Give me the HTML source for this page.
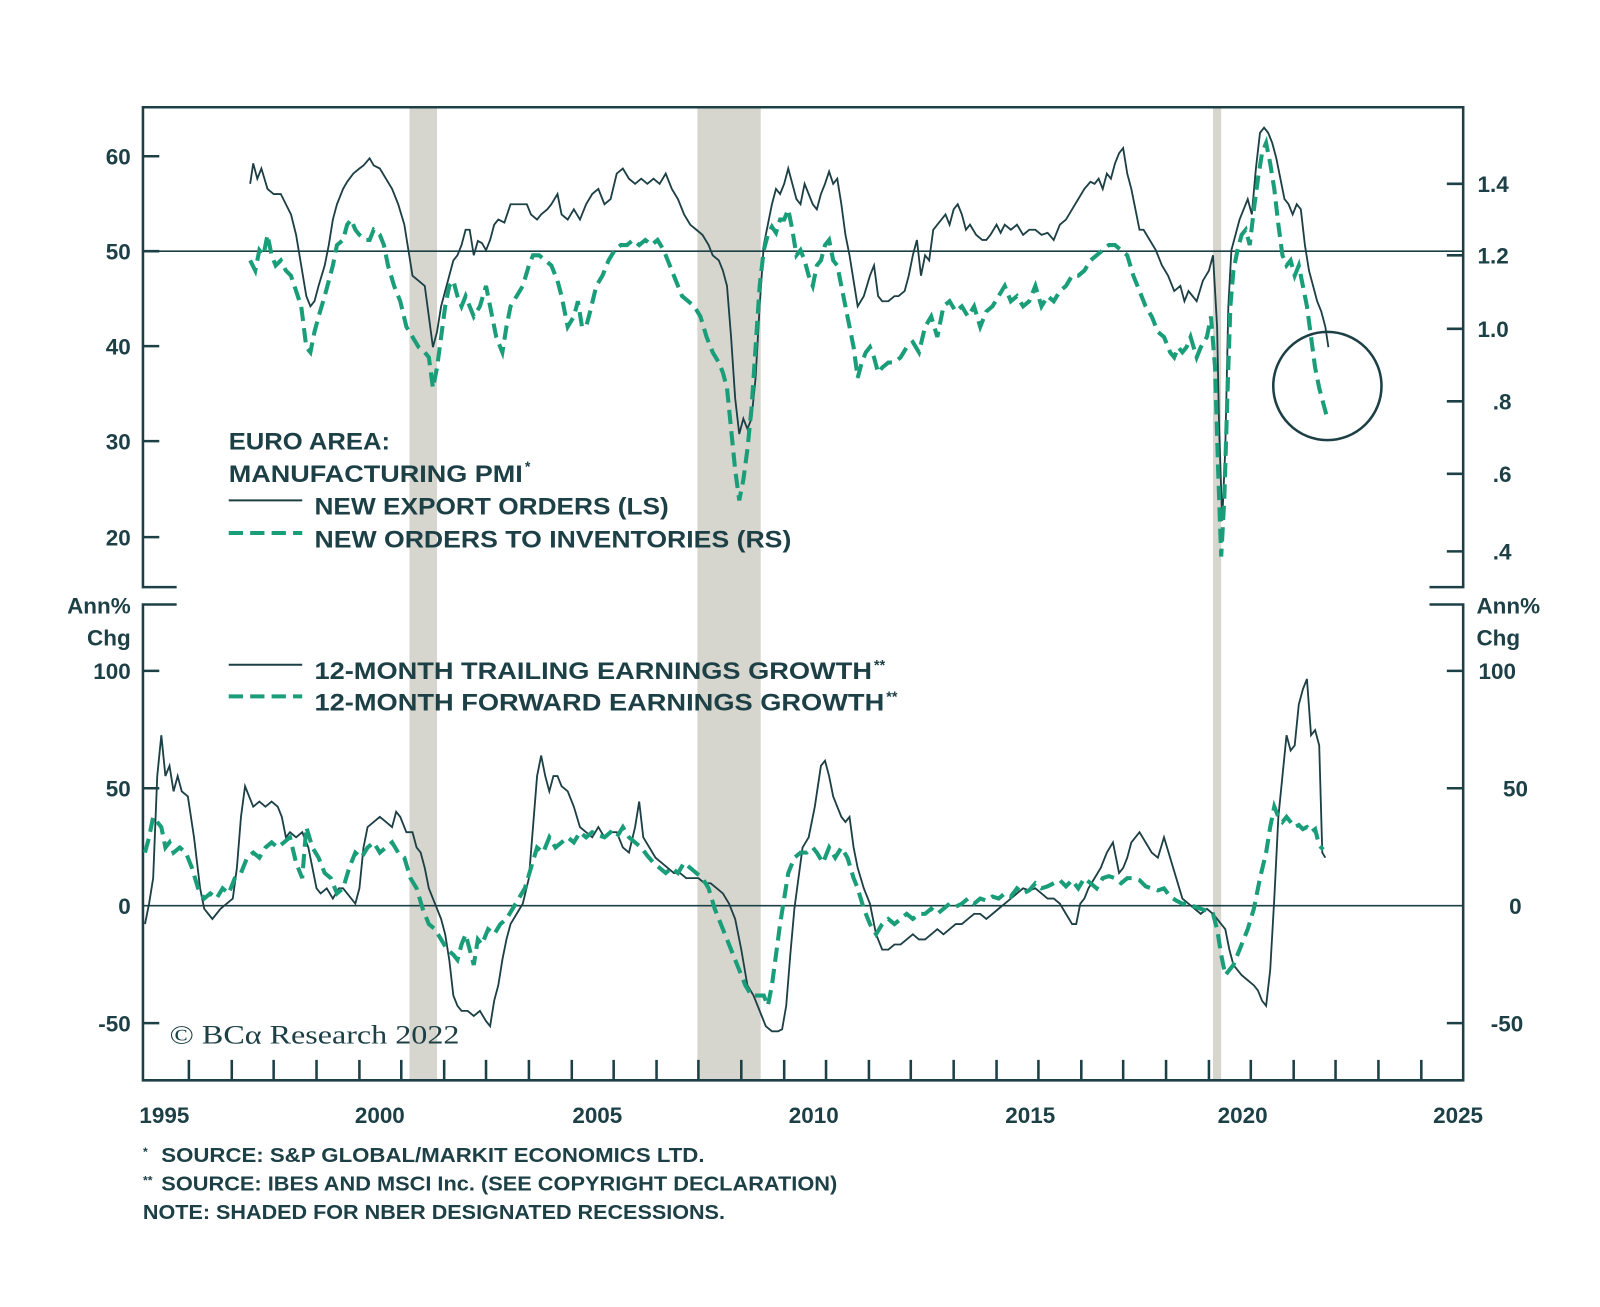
<!DOCTYPE html>
<html><head><meta charset="utf-8"><style>
html,body{margin:0;padding:0;background:#fff;}
svg{display:block;}
text{font-family:"Liberation Sans",sans-serif;font-weight:bold;fill:#1d4046;}
</style></head><body>
<svg width="1600" height="1307" viewBox="0 0 1567 1280" xmlns="http://www.w3.org/2000/svg">
<rect width="1567" height="1280" fill="#fff"/>
<g fill="#d6d6ce">
<rect x="401" y="105" width="27" height="953"/>
<rect x="683" y="105" width="62" height="953"/>
<rect x="1188" y="105" width="8" height="953"/>
</g>
<g stroke="#1d4046" fill="none" stroke-width="2.5">
<path d="M173,575 H140 V105 H1433 V575 H1400"/>
<path d="M140,246 H1433" stroke-width="1.5"/>
<path d="M140,153 h16 M140,246 h16 M140,339 h16 M140,432 h16 M140,526 h16"/>
<path d="M1433,180 h-16 M1433,250 h-16 M1433,322 h-16 M1433,393 h-16 M1433,464 h-16 M1433,540 h-16"/>
<path d="M173,592 H140 V1058 H1433 V592 H1400"/>
<path d="M140,887 H1433" stroke-width="1.5"/>
<path d="M140,657 h16 M140,772 h16 M140,1002 h16"/>
<path d="M1433,657 h-16 M1433,772 h-16 M1433,1002 h-16"/>
<path d="M185,1058 v-20 M227,1058 v-20 M268,1058 v-20 M310,1058 v-20 M352,1058 v-20 M393,1058 v-20 M435,1058 v-20 M476,1058 v-20 M518,1058 v-20 M560,1058 v-20 M601,1058 v-20 M643,1058 v-20 M684,1058 v-20 M726,1058 v-20 M768,1058 v-20 M809,1058 v-20 M851,1058 v-20 M892,1058 v-20 M934,1058 v-20 M976,1058 v-20 M1017,1058 v-20 M1059,1058 v-20 M1100,1058 v-20 M1142,1058 v-20 M1184,1058 v-20 M1225,1058 v-20 M1267,1058 v-20 M1308,1058 v-20 M1350,1058 v-20 M1392,1058 v-20"/>
<circle cx="1300" cy="378" r="53"/>
</g>
<polyline fill="none" stroke="#1d4046" stroke-width="1.8" points="245,180 248,160 252,175 256,165 262,185 268,190 275,190 280,200 285,210 290,230 295,260 300,290 304,300 308,295 312,280 318,260 322,240 326,215 330,200 336,185 340,178 346,170 352,165 356,162 362,155 366,162 372,165 378,175 384,185 390,200 396,220 400,245 404,270 410,275 416,280 420,310 424,340 428,325 432,300 436,285 440,270 444,255 448,250 452,240 456,225 460,225 464,250 468,236 472,238 476,245 480,235 484,220 488,215 494,218 500,200 506,200 512,200 516,200 520,210 526,215 530,210 536,205 540,200 546,190 550,210 556,215 562,205 568,215 574,200 580,190 586,185 592,200 598,195 604,170 610,165 616,175 622,180 628,175 634,180 640,175 646,180 652,170 658,185 664,195 670,210 676,220 682,225 688,230 694,240 698,250 704,255 708,265 712,280 716,330 720,390 724,425 728,410 732,420 736,410 740,370 744,300 748,240 752,220 756,200 760,185 764,190 768,180 772,165 776,180 780,195 784,200 788,180 792,190 796,200 800,205 804,190 808,180 812,168 816,180 820,175 824,200 828,230 832,250 836,275 840,300 846,290 852,270 856,260 860,290 864,295 870,295 876,290 880,290 886,285 890,270 894,250 898,235 902,270 906,250 910,255 914,225 918,220 922,215 926,210 930,220 934,205 938,200 942,210 946,225 950,220 956,230 962,235 966,235 970,230 976,220 980,228 984,220 990,225 996,220 1002,230 1008,225 1014,225 1020,230 1026,228 1032,235 1038,220 1044,215 1050,205 1056,195 1062,185 1068,178 1072,180 1076,175 1080,185 1084,170 1088,175 1092,160 1096,150 1100,145 1104,170 1108,185 1112,205 1116,225 1120,225 1126,235 1132,245 1138,260 1144,270 1150,285 1156,280 1160,295 1164,285 1168,290 1172,295 1178,275 1184,265 1188,250 1192,320 1194,420 1197,510 1200,440 1203,300 1206,245 1210,230 1214,215 1218,205 1222,195 1226,210 1230,165 1234,130 1238,125 1242,130 1246,140 1250,155 1254,175 1258,195 1262,200 1266,210 1270,200 1274,205 1278,240 1282,265 1286,280 1290,295 1294,305 1298,320 1301,340"/>
<polyline fill="none" stroke="#1a9e7a" stroke-width="4" stroke-dasharray="14,7" points="245,255 250,265 254,245 258,250 262,230 266,250 270,260 275,255 280,265 285,270 290,285 295,300 300,340 304,345 308,325 312,310 318,290 322,275 326,260 330,240 336,235 340,220 344,215 348,225 352,230 358,235 362,235 366,225 372,230 376,240 380,260 386,280 392,295 398,320 404,330 410,340 416,345 420,350 424,380 428,360 432,330 436,300 440,280 444,275 448,290 452,300 456,290 460,300 464,310 470,300 476,280 480,300 486,330 492,345 496,320 500,300 506,290 512,280 518,260 522,250 528,250 534,255 540,260 546,275 550,290 556,320 562,310 566,295 570,320 574,320 578,305 584,280 590,270 596,255 602,245 608,240 614,240 620,235 626,240 632,235 638,240 644,235 650,245 656,260 662,275 668,290 674,295 680,300 686,310 692,330 698,345 704,355 708,365 712,380 716,420 720,460 724,490 728,470 732,440 736,400 740,340 744,280 748,245 752,230 756,222 760,228 764,215 768,215 772,205 776,225 780,250 784,245 788,255 792,270 796,280 800,260 804,255 808,240 812,235 816,255 820,260 824,280 828,300 832,320 836,340 840,370 844,355 848,345 852,340 856,350 860,365 864,360 870,355 876,355 882,350 888,340 894,335 900,345 906,320 912,310 918,330 924,300 930,295 936,305 942,300 948,310 954,300 960,320 966,305 972,300 978,290 984,280 990,295 996,290 1002,300 1008,295 1014,280 1020,300 1026,290 1032,295 1038,285 1044,280 1050,270 1056,270 1062,265 1068,255 1074,250 1080,245 1086,240 1092,240 1098,245 1104,250 1110,270 1116,285 1122,300 1128,310 1134,325 1140,330 1146,345 1150,350 1154,340 1158,345 1162,340 1166,330 1172,350 1176,340 1182,330 1186,310 1190,360 1193,460 1196,545 1199,490 1202,390 1205,300 1208,265 1212,245 1216,230 1220,225 1224,240 1228,205 1232,175 1236,150 1240,140 1244,160 1248,185 1252,220 1256,250 1260,260 1264,255 1268,270 1272,260 1276,280 1280,300 1284,330 1288,360 1292,380 1296,395 1300,410"/>
<polyline fill="none" stroke="#1d4046" stroke-width="1.8" points="142,905 146,885 150,860 154,760 158,720 162,760 166,750 170,775 174,760 178,775 184,780 190,820 196,870 200,890 204,895 208,900 212,895 216,890 222,885 228,880 232,850 236,800 240,770 244,780 248,790 254,785 260,790 266,785 272,790 276,800 280,820 284,815 290,820 296,815 302,830 306,850 310,870 314,875 320,870 326,880 332,870 336,870 340,875 344,880 348,885 352,870 356,830 360,810 366,805 372,800 378,805 384,810 388,795 392,800 398,815 404,815 408,830 412,835 416,850 420,870 424,880 428,890 432,900 436,915 440,940 444,975 448,985 452,990 458,990 464,995 470,990 476,1000 480,1005 484,980 488,965 492,940 496,920 500,905 506,895 512,885 518,860 522,810 526,760 530,740 534,760 538,775 542,760 546,760 550,770 556,775 562,790 568,810 574,815 580,820 586,810 592,820 598,815 604,815 610,830 616,835 622,810 626,785 630,820 636,830 642,840 648,845 654,850 660,855 666,855 672,860 678,860 684,860 690,865 696,865 702,870 708,875 714,885 720,900 726,930 732,965 738,975 744,990 750,1005 756,1010 762,1010 766,1008 770,985 774,935 778,890 782,860 786,830 792,820 798,790 804,750 808,745 812,760 816,780 820,790 824,800 828,805 832,800 836,830 840,850 846,870 852,885 858,915 864,930 870,930 876,925 882,925 888,920 894,915 900,920 906,920 912,915 918,910 924,915 930,910 936,905 942,905 948,900 954,895 960,895 966,900 972,895 978,890 984,885 990,880 996,875 1002,870 1008,872 1014,870 1020,875 1026,880 1032,880 1038,885 1044,895 1050,905 1054,905 1058,885 1062,880 1066,870 1072,860 1078,850 1084,835 1090,825 1096,855 1100,850 1104,840 1108,825 1112,820 1116,815 1122,825 1128,835 1134,840 1140,820 1146,840 1152,860 1158,880 1164,885 1170,890 1176,895 1182,890 1188,895 1192,900 1196,905 1200,910 1204,930 1208,945 1212,950 1216,955 1222,960 1228,965 1232,970 1236,980 1240,985 1244,950 1248,880 1252,800 1256,760 1260,720 1264,735 1268,730 1272,690 1276,675 1280,665 1284,720 1288,715 1292,730 1295,835 1298,840"/>
<polyline fill="none" stroke="#1a9e7a" stroke-width="4" stroke-dasharray="14,7" points="142,835 146,820 150,800 154,805 158,810 162,830 166,825 170,835 176,830 182,835 188,850 194,870 200,880 206,875 212,880 218,870 224,875 230,860 236,855 242,840 248,835 254,840 260,830 266,825 272,830 278,825 284,820 290,845 296,860 300,810 306,830 312,840 318,855 324,860 330,875 336,870 342,850 348,835 354,840 360,830 366,825 372,835 378,830 384,825 390,835 396,840 402,860 408,870 414,890 420,905 426,910 432,920 438,930 444,935 448,940 452,925 456,915 460,930 464,945 468,920 472,925 478,910 484,915 490,905 496,900 502,890 508,880 514,870 520,850 526,830 532,835 538,820 544,830 550,825 556,820 562,825 568,815 574,820 580,815 586,818 592,820 598,815 604,820 610,810 616,820 622,825 628,830 634,838 640,845 646,850 652,855 658,850 664,855 670,845 676,850 682,855 688,860 694,870 700,890 706,905 712,920 718,935 724,950 730,965 736,975 742,975 748,975 752,985 756,965 760,935 764,905 768,880 772,855 778,840 784,835 790,835 796,830 800,835 806,845 812,830 818,840 824,830 830,840 836,860 840,870 846,890 852,905 858,915 864,905 870,900 876,905 882,900 888,895 894,900 900,895 906,895 912,890 918,895 924,890 930,885 936,888 942,885 948,880 954,885 960,880 966,882 972,878 978,880 984,875 990,878 996,870 1002,875 1008,872 1014,865 1020,870 1026,868 1032,865 1038,862 1044,868 1050,862 1056,870 1062,860 1068,865 1074,870 1080,860 1086,858 1092,860 1098,865 1104,860 1110,860 1116,862 1122,868 1128,870 1134,872 1140,870 1146,878 1152,882 1158,885 1164,885 1170,888 1176,890 1182,892 1188,895 1192,910 1196,935 1200,955 1204,950 1208,945 1212,935 1216,925 1222,910 1228,890 1234,860 1240,835 1244,810 1248,790 1252,800 1256,805 1260,800 1264,805 1268,810 1272,808 1276,812 1280,810 1284,815 1288,812 1292,828 1296,832"/>
<g font-size="22" text-anchor="end">
<text x="128" y="161">60</text><text x="128" y="254">50</text><text x="128" y="347">40</text><text x="128" y="440">30</text><text x="128" y="534">20</text>
<text x="128" y="601">Ann%</text><text x="128" y="632">Chg</text>
<text x="128" y="665">100</text><text x="128" y="780">50</text><text x="128" y="895">0</text><text x="128" y="1010">-50</text>
</g>
<g font-size="22" text-anchor="start">
<text x="1447" y="188">1.4</text><text x="1447" y="258">1.2</text><text x="1447" y="330">1.0</text><text x="1462" y="401">.8</text><text x="1462" y="472">.6</text><text x="1462" y="548">.4</text>
<text x="1446" y="601">Ann%</text><text x="1446" y="632">Chg</text>
<text x="1448" y="665">100</text><text x="1472" y="780">50</text><text x="1478" y="895">0</text><text x="1460" y="1010">-50</text>
</g>
<g font-size="22" text-anchor="middle">
<text x="161" y="1100">1995</text><text x="372" y="1100">2000</text><text x="585" y="1100">2005</text><text x="797" y="1100">2010</text><text x="1009" y="1100">2015</text><text x="1217" y="1100">2020</text><text x="1428" y="1100">2025</text>
</g>
<g font-size="24">
<text x="224" y="440" textLength="158" lengthAdjust="spacingAndGlyphs">EURO AREA:</text>
<text x="224" y="472" textLength="288" lengthAdjust="spacingAndGlyphs">MANUFACTURING PMI</text><text x="514" y="462" font-size="14">*</text>
<text x="308" y="504" textLength="347" lengthAdjust="spacingAndGlyphs">NEW EXPORT ORDERS (LS)</text>
<text x="308" y="536" textLength="467" lengthAdjust="spacingAndGlyphs">NEW ORDERS TO INVENTORIES (RS)</text>
<text x="308" y="665" textLength="546" lengthAdjust="spacingAndGlyphs">12-MONTH TRAILING EARNINGS GROWTH</text><text x="856" y="656" font-size="14">**</text>
<text x="308" y="696" textLength="558" lengthAdjust="spacingAndGlyphs">12-MONTH FORWARD EARNINGS GROWTH</text><text x="868" y="687" font-size="14">**</text>
</g>
<g stroke-width="2" fill="none">
<path d="M224,490 H296 M224,651 H296" stroke="#1d4046"/>
<path d="M224,522 H296 M224,682 H296" stroke="#1a9e7a" stroke-width="4" stroke-dasharray="14,7"/>
</g>
<text x="166" y="1022" font-size="26" textLength="284" lengthAdjust="spacingAndGlyphs" style="font-family:'Liberation Serif',serif;font-weight:normal" fill="#1d4046">© BCα Research 2022</text>
<g font-size="20">
<text x="140" y="1132" font-size="12">*</text>
<text x="158" y="1138" textLength="532" lengthAdjust="spacingAndGlyphs">SOURCE: S&amp;P GLOBAL/MARKIT ECONOMICS LTD.</text>
<text x="140" y="1160" font-size="12">**</text>
<text x="158" y="1166" textLength="662" lengthAdjust="spacingAndGlyphs">SOURCE: IBES AND MSCI Inc. (SEE COPYRIGHT DECLARATION)</text>
<text x="140" y="1194" textLength="570" lengthAdjust="spacingAndGlyphs">NOTE: SHADED FOR NBER DESIGNATED RECESSIONS.</text>
</g>
</svg>
</body></html>
